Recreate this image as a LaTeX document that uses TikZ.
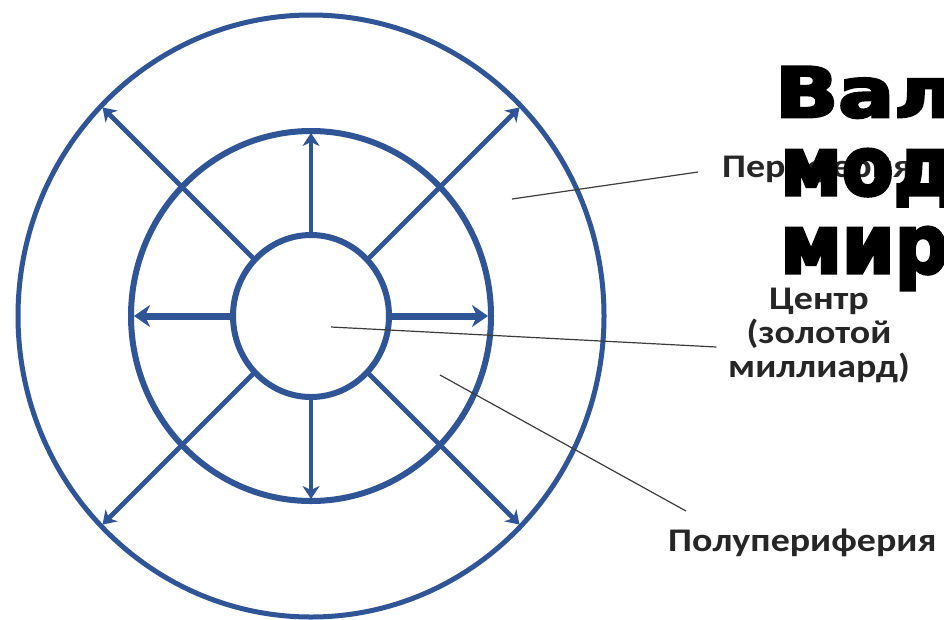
\documentclass[tikz,border=0pt]{standalone}
\usepackage{fontspec}
\setmainfont{Carlito}
\newfontfamily\titlefont[FakeBold=4]{DejaVu Sans}
\usetikzlibrary{shapes.geometric,arrows.meta,calc}
\definecolor{ringblue}{RGB}{47,85,151}
\definecolor{leadergray}{RGB}{60,60,60}
\newcommand\widelbl[1]{\scalebox{1.15}[1]{#1}}
\begin{document}
\begin{tikzpicture}[x=1pt,y=-1pt,
  ring/.style={draw=ringblue, ellipse, inner sep=0pt, outer sep=0pt},
  spoke/.style={draw=ringblue, line width=4.8pt, shorten >=2pt,
    -{Stealth[length=13pt,width=17pt,inset=4pt]}},
  hspoke/.style={draw=ringblue, line width=7pt, shorten >=3pt,
    -{Stealth[length=16pt,width=22pt,inset=5pt]}},
  leader/.style={draw=leadergray, line width=1.2pt},
  lbl/.style={inner sep=0pt, font=\bfseries\fontsize{33}{38}\selectfont, text=black!85},
  ttl/.style={inner sep=0pt, anchor=base west, text=black}]
\fill[white] (0,0) rectangle (944,619);
\useasboundingbox (0,0) rectangle (944,619);
\coordinate (C) at (311,316);
% rings
\node[ring, line width=5pt, minimum width=586pt, minimum height=602pt] (outer) at (C) {};
\node[ring, line width=6pt, minimum width=360pt, minimum height=370pt] (middle) at (C) {};
\node[ring, line width=6pt, minimum width=156pt, minimum height=162pt] (inner) at (C) {};
% spokes
\draw[spoke] (inner.north) -- (middle.north);
\draw[spoke] (inner.south) -- (middle.south);
\draw[hspoke] (inner.west) -- (middle.west);
\draw[hspoke] (inner.east) -- (middle.east);
\draw[spoke] (inner.45) -- (outer.45);
\draw[spoke] (inner.135) -- (outer.135);
\draw[spoke] (inner.225) -- (outer.225);
\draw[spoke] (inner.315) -- (outer.315);
% labels
\node[lbl, anchor=base west] (perlbl) at (722,177) {\widelbl{Периферия}};
\node[lbl, anchor=base] (cen1) at (819,309) {\widelbl{Центр}};
\node[lbl, anchor=base] (cen2) at (819,343) {\widelbl{(золотой}};
\node[lbl, anchor=base] (cen3) at (819,377) {\widelbl{миллиард)}};
\node[lbl, anchor=base west] (semlbl) at (668,551) {\widelbl{Полупериферия}};
% leader lines
\coordinate (perarea) at (512,199);
\coordinate (cenarea) at (331,327);
\coordinate (semarea) at (440,375);
\draw[leader] (perarea) -- ([shift={(-24,-5)}]perlbl.base west);
\draw[leader] (cenarea) -- ([shift={(-30,4)}]cen2.base west);
\draw[leader] (semarea) -- ([shift={(18,-40)}]semlbl.base west);
% title
\node[ttl] (t1) at (775,117) {\titlefont\bfseries\fontsize{69}{69}\selectfont\scalebox{1.2}[1]{Вал}};
\node[ttl] (t2) at (780,195) {\titlefont\bfseries\fontsize{82}{82}\selectfont\scalebox{0.92}[1]{мод}};
\node[ttl] (t3) at (780,273) {\titlefont\bfseries\fontsize{82}{82}\selectfont\scalebox{0.92}[1]{мир}};
\end{tikzpicture}
\end{document}
